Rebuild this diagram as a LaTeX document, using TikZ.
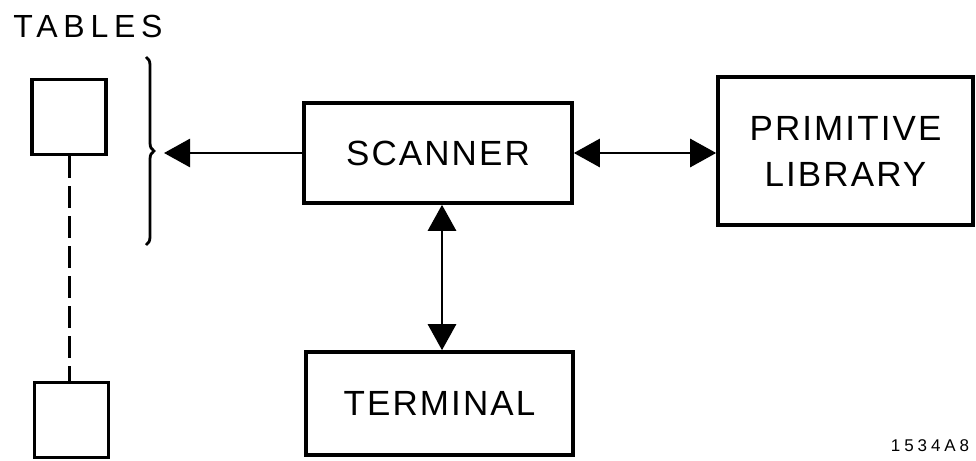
\documentclass[tikz,border=0pt]{standalone}
\usepackage{fontspec}
\setmainfont{Liberation Sans}
\usetikzlibrary{arrows.meta,decorations.pathreplacing}
\begin{document}
\begin{tikzpicture}[x=1pt,y=-1pt,
  box/.style={draw, line width=3.6pt, inner sep=0pt, align=center,
    font=\fontsize{35}{46}\selectfont\addfontfeature{LetterSpace=6}},
  sq/.style={draw, line width=3.6pt, inner sep=0pt, minimum width=74pt, minimum height=75pt},
  lbl/.style={inner sep=0pt},
  conn/.style={line width=2.8pt, -{Triangle[length=26pt,width=28pt]}},
  dconn/.style={line width=2.8pt, {Triangle[length=26pt,width=28pt]}-{Triangle[length=26pt,width=28pt]}},
  dashline/.style={line width=3pt, dash pattern=on 22pt off 8pt},
  bracestyle/.style={line width=2.8pt, decorate, decoration={brace, amplitude=8pt}}
]
\useasboundingbox (0,0) rectangle (976,460);

% boxes
\node[box, minimum width=268pt, minimum height=100pt] (scanner) at (438,153) {SCANNER};
\node[box, minimum width=255pt, minimum height=148pt] (prim) at (845.5,151) {PRIMITIVE\\LIBRARY};
\node[box, minimum width=267pt, minimum height=103pt] (term) at (439.5,403.5) {TERMINAL};

% tables
\node[lbl, font=\fontsize{32}{32}\selectfont\addfontfeature{LetterSpace=18}] (tables) at (88,26) {TABLES};
\node[sq] (t1) at (69,117) {};
\node[sq] (t2) at (71.5,420) {};
\draw[dashline] (t1.south) -- (t1.south |- t2.north);

% brace
\draw[bracestyle] (146,57) -- (146,245);
\coordinate (bt) at (164,153);

% connectors
\draw[conn] (scanner.west) -- (bt);
\draw[dconn] (scanner.east) -- (scanner.east -| prim.west);
\draw[dconn] ([xshift=4pt]scanner.south) -- ([xshift=4pt]scanner.south |- term.north);

% figure number
\node[lbl, font=\fontsize{17}{17}\selectfont\addfontfeature{LetterSpace=23}] (fig) at (930,446) {1534A8};
\end{tikzpicture}
\end{document}
